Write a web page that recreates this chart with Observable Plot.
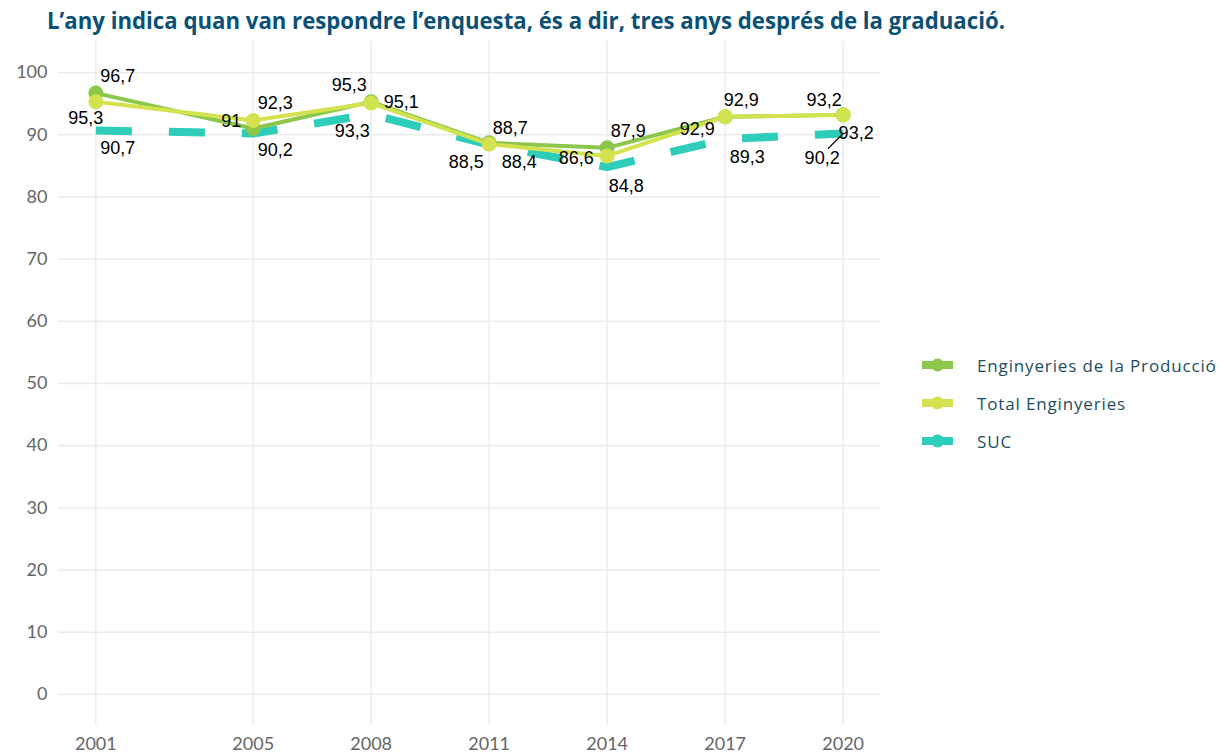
<!DOCTYPE html>
<html>
<head>
<meta charset="utf-8">
<script src="https://cdn.jsdelivr.net/npm/d3@7"></script>
<script src="https://cdn.jsdelivr.net/npm/@observablehq/plot@0.6"></script>
<style>
  html, body { margin: 0; padding: 0; background: #fff; }
  #wrap { position: relative; width: 1228px; height: 754px; overflow: hidden; }
  #title { position: relative; height: 38px; }
  #title span { position: absolute; left: 47px; top: 4px; white-space: nowrap; font-family: "Open Sans", sans-serif; font-weight: 700; font-size: 23px; color: #0b5075; transform-origin: 0 0; }
  #legend { position: absolute; left: 918px; top: 346px; font-family: "Open Sans", sans-serif; font-size: 17px; color: #1d4e60; letter-spacing: 0.85px; }
  .item { display: flex; align-items: center; height: 38px; white-space: nowrap; }
  .item svg { margin-right: 23px; }
</style>
</head>
<body>
<div id="wrap">
  <div id="title"><span id="ttl">L’any indica quan van respondre l’enquesta, és a dir, tres anys després de la graduació.</span></div>
  <div id="chart"></div>
  <div id="legend"></div>
</div>
<script>
// ---- data ----
const years = [2001, 2005, 2008, 2011, 2014, 2017, 2020];
const produccio = [96.7, 91, 95.3, 88.7, 87.9, 92.9, 93.2];
const totalEnginyeries = [95.3, 92.3, 95.1, 88.5, 86.6, 92.9, 93.2];
const suc = [90.7, 90.2, 93.3, 88.4, 84.8, 89.3, 90.2];
const seriesNames = ["Enginyeries de la Producció", "Total Enginyeries", "SUC"];
const yTicks = [0, 10, 20, 30, 40, 50, 60, 70, 80, 90, 100];

// ---- style / layout ----
const colors = ["#8cc74b", "#d3e350", "#2ecdba"];
// label nudges in pixels (repelled label placement)
const nudgeProduccio = [[22,-16.5],[-22,-7],[-22,-17],[21,-15],[21,-17],[-28,12],[13,18]];
const nudgeTotal = [[-10,16],[22,-17],[30,-1],[-23,18],[-31,2],[16,-17],[-19,-15]];
const nudgeSuc = [[22,18],[22,17],[-19,17],[30,18],[19,19.5],[22,18],[-21,25]];

const fmt = v => String(v).replace(".", ",");
const mk = (vals, name) => years.map((y, i) => ({year: y, value: vals[i], series: name}));
const dProd = mk(produccio, seriesNames[0]);
const dTot = mk(totalEnginyeries, seriesNames[1]);
const dSuc = mk(suc, seriesNames[2]);

const labelMarks = [];
[[dProd, nudgeProduccio], [dTot, nudgeTotal], [dSuc, nudgeSuc]].forEach(([d, nudges]) => {
  d.forEach((row, i) => {
    labelMarks.push(Plot.text([row], {
      x: "year", y: "value", text: r => fmt(r.value),
      dx: nudges[i][0], dy: nudges[i][1],
      fontFamily: "Liberation Sans, Arial, sans-serif", fontSize: 18, fill: "#000",
      textAnchor: "middle", lineAnchor: "middle"
    }));
  });
});

const leader = {draw(context, l) { context.moveTo(0, 0); context.lineTo(0, -l); }};

const chart = Plot.plot({
  width: 1228,
  height: 716,
  marginLeft: 58,
  marginRight: 348,
  marginTop: 3,
  marginBottom: 29,
  style: {fontFamily: "Lato, sans-serif", fontSize: "18px", color: "#666", background: "#fff"},
  x: {type: "linear", domain: [2000.05, 2020.95], ticks: years, tickFormat: d => String(d), tickSize: 0, tickPadding: 12, label: null},
  y: {domain: [-5, 105], ticks: yTicks, tickSize: 0, tickPadding: 11, label: null},
  marks: [
    Plot.gridX(years, {stroke: "#ebebeb", strokeOpacity: 1, strokeWidth: 1.4}),
    Plot.gridY(yTicks, {stroke: "#ebebeb", strokeOpacity: 1, strokeWidth: 1.4}),
    Plot.line(dSuc, {x: "year", y: "value", stroke: colors[2], strokeWidth: 8, strokeDasharray: "36,37", strokeLinecap: "butt"}),
    Plot.line(dProd, {x: "year", y: "value", stroke: colors[0], strokeWidth: 4}),
    Plot.line(dTot, {x: "year", y: "value", stroke: colors[1], strokeWidth: 4}),
    Plot.dot(dProd, {x: "year", y: "value", r: 7.5, fill: colors[0]}),
    Plot.dot(dTot, {x: "year", y: "value", r: 7.5, fill: colors[1]}),
    Plot.vector([dSuc[dSuc.length - 1]], {x: "year", y: "value", length: 21, rotate: 225, anchor: "start", shape: leader, stroke: "#000", strokeWidth: 1.3}),
    ...labelMarks,
    Plot.axisX({ticks: years, tickFormat: d => String(d), tickSize: 0, tickPadding: 12, fontSize: 18, fill: "#666"}),
    Plot.axisY({ticks: yTicks, tickSize: 0, tickPadding: 11, fontSize: 18, fill: "#666"})
  ]
});
document.getElementById("chart").appendChild(chart);

// legend
const legend = d3.select("#legend");
seriesNames.forEach((name, i) => {
  const item = legend.append("div").attr("class", "item");
  const s = item.append("svg").attr("width", 36).attr("height", 16);
  s.append("line").attr("x1", 4).attr("x2", 35).attr("y1", 8).attr("y2", 8).attr("stroke", colors[i]).attr("stroke-width", 8);
  s.append("circle").attr("cx", 19.5).attr("cy", 8).attr("r", 6.5).attr("fill", colors[i]);
  item.append("span").text(name);
});

// fit title width
const t = document.getElementById("ttl");
const w = t.getBoundingClientRect().width;
t.style.transform = `scaleX(${958 / w})`;
</script>
</body>
</html>
